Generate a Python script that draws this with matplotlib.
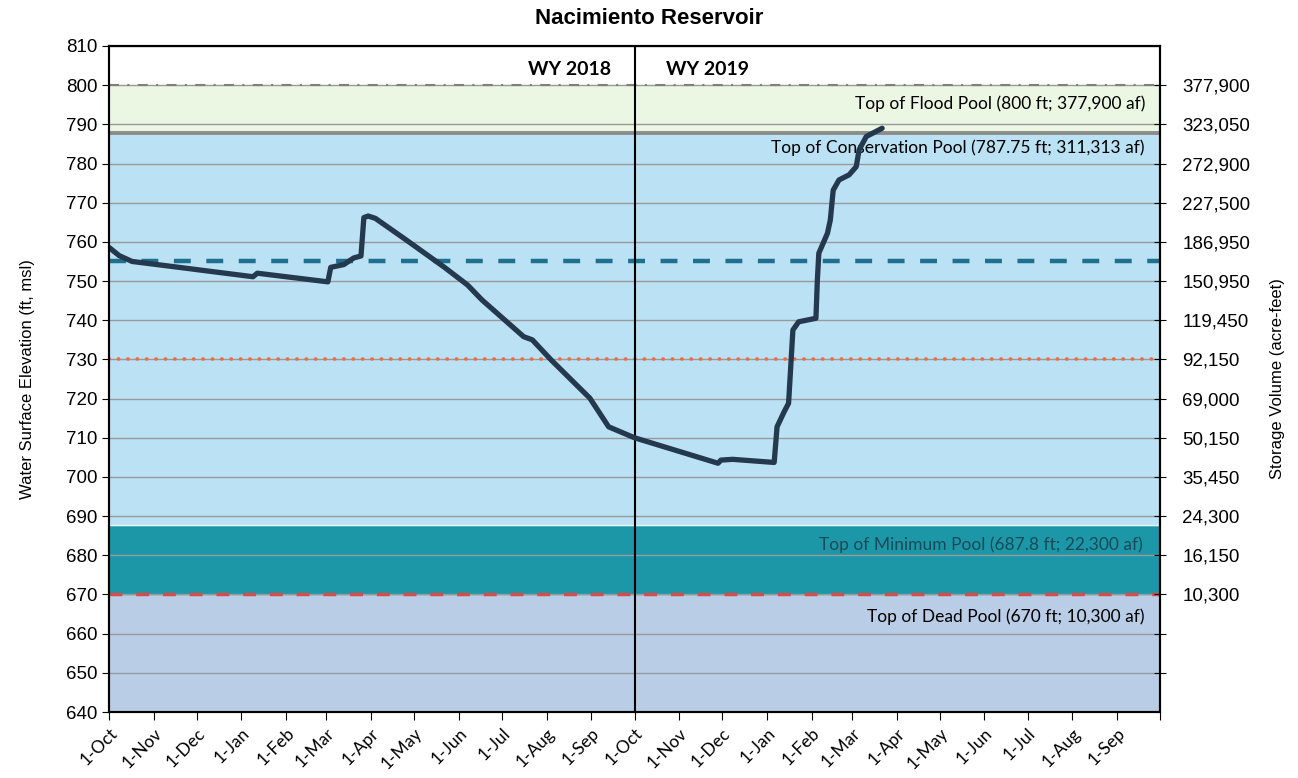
import numpy as np
import pandas as pd
import matplotlib
matplotlib.use("Agg")
import matplotlib.pyplot as plt
import matplotlib.dates as mdates
import matplotlib.transforms as mtransforms

# elevation record (ft, msl)
dates = ["2017-10-01", "2017-10-08", "2017-10-17", "2017-11-10", "2018-01-09",
         "2018-01-12", "2018-03-02", "2018-03-04", "2018-03-13", "2018-03-20",
         "2018-03-25", "2018-03-27", "2018-03-30", "2018-04-04", "2018-04-25",
         "2018-05-03", "2018-05-22", "2018-06-07", "2018-06-17", "2018-07-16",
         "2018-07-22", "2018-08-04", "2018-08-31", "2018-09-13", "2018-10-01",
         "2018-11-28", "2018-11-30", "2018-12-08", "2019-01-06", "2019-01-08",
         "2019-01-13", "2019-01-16", "2019-01-19", "2019-01-23", "2019-02-04",
         "2019-02-05", "2019-02-06", "2019-02-12", "2019-02-14", "2019-02-16",
         "2019-02-20", "2019-02-27", "2019-03-04", "2019-03-06", "2019-03-11",
         "2019-03-22"]
elev = [758.6, 756.5, 755.0, 753.9, 751.1,
        752.0, 749.8, 753.5, 754.2, 755.9,
        756.4, 766.2, 766.6, 766.0, 760.6,
        758.5, 753.5, 749.0, 745.2, 735.8,
        735.0, 729.9, 720.1, 712.8, 710.0,
        703.5, 704.3, 704.5, 703.7, 712.8,
        716.7, 718.8, 737.5, 739.6, 740.5,
        750.3, 757.1, 762.2, 765.6, 773.2,
        775.8, 777.1, 779.2, 783.5, 786.9,
        789.0]

# pool levels
dead_pool = 670.0
min_pool = 687.8
cons_pool = 787.75
flood_pool = 800.0
teal_line = 755.0
orange_line = 730.0

# storage ticks on the right axis
storage_elev = [800, 790, 780, 770, 760, 750, 740, 730, 720, 710, 700, 690, 680, 670]
storage_lab = ["377,900", "323,050", "272,900", "227,500", "186,950", "150,950",
               "119,450", "92,150", "69,000", "50,150", "35,450", "24,300",
               "16,150", "10,300"]

x = pd.to_datetime(dates)
start = pd.Timestamp("2017-10-01")
end = pd.Timestamp("2019-10-01")
split = pd.Timestamp("2018-10-01")

fig = plt.figure(figsize=(12.98, 7.78), dpi=100)
ax = fig.add_axes([0.084, 0.0848, 0.8097, 0.8561])

# background bands
ax.axhspan(640, dead_pool, color="#bacde6", zorder=0)
ax.axhspan(dead_pool, min_pool, color="#1b97a8", zorder=0)
ax.axhspan(min_pool, cons_pool, color="#bae1f4", zorder=0)
ax.axhspan(cons_pool, flood_pool, color="#ebf6e3", zorder=0)
ax.axhline(min_pool, color="white", lw=1, alpha=0.7, zorder=1)

# grid
for v in range(650, 811, 10):
    ax.axhline(v, color="#9a9a9a", lw=1, zorder=1)

# level lines
ax.axhline(flood_pool, color="#7f7f7f", lw=1.5, linestyle=(0, (4.8, 4, 1, 4)), zorder=2)
ax.axhline(cons_pool, color="#8c8c8c", lw=2.8, zorder=2)
ax.axhline(teal_line, color="#1f6f8e", lw=3.2, linestyle=(0, (3.8, 3.5)), zorder=2)
ax.axhline(orange_line, color="#f36b3f", lw=2.6, linestyle=(0, (0.1, 2.5)),
           dash_capstyle="round", zorder=2)
ax.axhline(dead_pool, color="#d44c4c", lw=2.5, linestyle=(0, (3.7, 4)), zorder=2)
ax.axvline(split, color="black", lw=1.5, zorder=3)

# elevation trace
ax.plot(x, elev, color="#24394d", lw=3.8, solid_joinstyle="round",
        solid_capstyle="round", zorder=4)

ax.set_xlim(start, end)
ax.set_ylim(640, 810)
ax.set_yticks(range(640, 811, 10))
ax.tick_params(axis="y", labelsize=13.5, direction="out", length=5)
for t in ax.get_yticklabels():
    t.set_family("Liberation Sans")

months = pd.date_range(start, end, freq="MS")
ax.set_xticks(months)
ax.set_xticklabels([d.strftime("1-%b") for d in months[:-1]] + [""],
                   rotation=45, ha="right", rotation_mode="anchor",
                   fontsize=12.5, family="Lato")
ax.tick_params(axis="x", direction="out", length=6)

ax.set_ylabel("Water Surface Elevation (ft, msl)", fontsize=12,
              family="Liberation Sans", labelpad=22)

for s in ax.spines.values():
    s.set_linewidth(1.5)

ax2 = ax.twinx()
ax2.set_ylim(640, 810)
ax2.set_yticks([650, 660] + storage_elev)
ax2.set_yticklabels(["", ""] + storage_lab, fontsize=13.5, family="Liberation Sans")
ax2.tick_params(axis="y", direction="inout", length=8, pad=12)
ax2.set_ylabel("Storage Volume (acre-feet)", fontsize=12, family="Liberation Sans",
               labelpad=14)
for s in ax2.spines.values():
    s.set_linewidth(1.5)

# labels
tr = mtransforms.blended_transform_factory(ax.transAxes, ax.transData)
ax.text(0.9857, 795.2, "Top of Flood Pool (800 ft; 377,900 af)", transform=tr,
        ha="right", va="center", fontsize=12.5, family="Lato", zorder=5)
ax.text(0.9857, 784.0, "Top of Conservation Pool (787.75 ft; 311,313 af)", transform=tr,
        ha="right", va="center", fontsize=12.5, family="Lato", zorder=3)
ax.text(0.9838, 682.6, "Top of Minimum Pool (687.8 ft; 22,300 af)", transform=tr,
        ha="right", va="center", fontsize=12.5, family="Lato", color="#1b4a57", zorder=5)
ax.text(0.9857, 664.4, "Top of Dead Pool (670 ft; 10,300 af)", transform=tr,
        ha="right", va="center", fontsize=12.5, family="Lato", zorder=5)

ax.text(split - pd.Timedelta(days=16), 803.9, "WY 2018", ha="right", va="center",
        fontsize=14, fontweight="bold", family="Lato", zorder=5)
ax.text(split + pd.Timedelta(days=22), 803.9, "WY 2019", ha="left", va="center",
        fontsize=14, fontweight="bold", family="Lato", zorder=5)

fig.suptitle("Nacimiento Reservoir", x=0.5, y=0.99, fontsize=16,
             fontweight="bold", family="Liberation Sans")

fig.savefig("out.png", dpi=100)
